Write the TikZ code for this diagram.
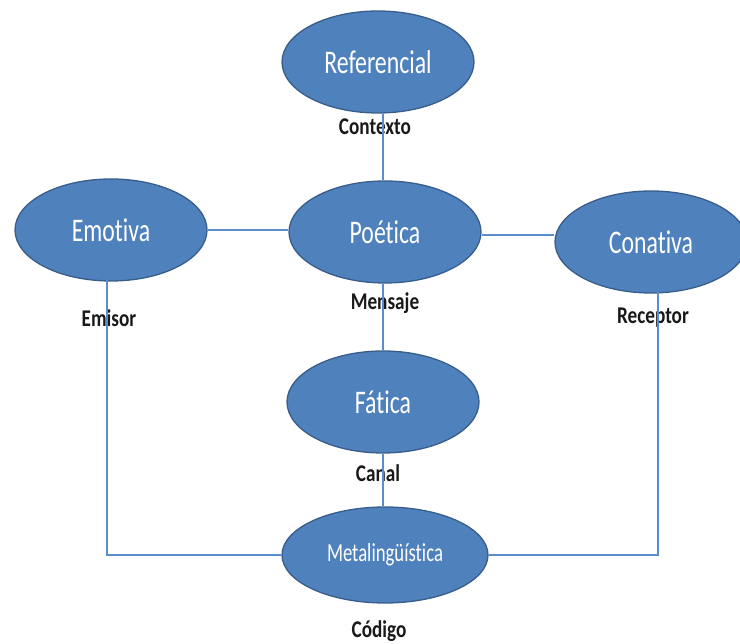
\documentclass[tikz,border=0pt]{standalone}
\usepackage{fontspec}
\setmainfont{Carlito}
\newfontfamily\narrowfont[FakeStretch=0.72,Ligatures={NoCommon}]{Carlito}
\newfontfamily\narrowbold[FakeStretch=0.8,Ligatures={NoCommon}]{Carlito Bold}
\usetikzlibrary{shapes.geometric}
\definecolor{ofill}{HTML}{4F81BD}
\definecolor{oline}{HTML}{385D8A}
\definecolor{conn}{HTML}{5B8CCB}
\tikzset{
  func/.style={ellipse, draw=oline, line width=1.3pt, fill=ofill, text=white,
    inner sep=0pt, minimum width=192pt, minimum height=102pt,
    font=\narrowfont\fontsize{33}{36}\selectfont},
  lbl/.style={text=black!90, inner sep=0pt, font=\narrowbold\fontsize{24}{26}\selectfont},
  link/.style={draw=conn, line width=1.1pt}
}
\begin{document}
\begin{tikzpicture}[x=1pt,y=1pt]
\useasboundingbox (0,0) rectangle (740,644);
% functions of language
\node[func] (ref) at (378,582) {Referencial};
\node[func] (poe) at (385,412) {Poética};
\node[func] (emo) at (111,414) {Emotiva};
\node[func] (con) at (651,402) {Conativa};
\node[func] (fat) at (383,242) {Fática};
\node[func, minimum width=206pt, minimum height=96pt,
      font=\narrowfont\fontsize{26}{28}\selectfont] (met) at (385,89) {Metalingüística};
% element labels
\node[lbl] (ctx) at (375,517) {Contexto};
\node[lbl] (msj) at (385,341) {Mensaje};
\node[lbl] (can) at (378,171) {Canal};
\node[lbl] (cod) at (379,13) {Código};
\node[lbl] (emi) at (109,326) {Emisor};
\node[lbl] (rec) at (653,326) {Receptor};
% connectors (drawn over the labels)
\coordinate (vx) at (383,0);
\coordinate (pc) at (0,409);
\draw[link] (ref.south -| vx) -- (poe.north -| vx);
\draw[link] (poe.south -| vx) -- (fat.north -| vx);
\draw[link] (fat.south -| vx) -- (met.north -| vx);
\draw[link] (emo.east) -- (poe.west |- emo.east);
\draw[link] (poe.east |- pc) -- (con.west |- pc);
\coordinate (emob) at (107,364);
\coordinate (conb) at (658,352);
\draw[link] (emob) |- (met.west);
\draw[link] (conb) |- (met.east);
\end{tikzpicture}
\end{document}
